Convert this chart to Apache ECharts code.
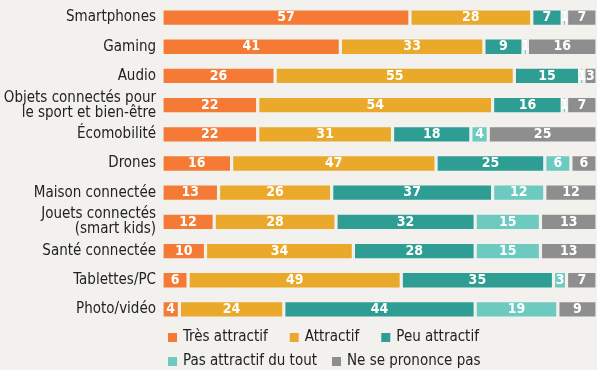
<!DOCTYPE html>
<html><head><meta charset="utf-8">
<script src="https://cdn.jsdelivr.net/npm/echarts@6/dist/echarts.min.js"></script>
<style>html,body{margin:0;padding:0;background:#f2f1ee}#c{width:597px;height:370px}</style>
</head><body><div id="c"></div>
<script>
var categories = ["Smartphones","Gaming","Audio","Objets connectés pour\nle sport et bien-être","Écomobilité","Drones","Maison connectée","Jouets connectés\n(smart kids)","Santé connectée","Tablettes/PC","Photo/vidéo"];
var seriesNames = ["Très attractif","Attractif","Peu attractif","Pas attractif du tout","Ne se prononce pas"];
var tresAttractif   = [57,41,26,22,22,16,13,12,10,6,4];
var attractif       = [28,33,55,54,31,47,26,28,34,49,24];
var peuAttractif    = [7,9,15,16,18,25,37,32,28,35,44];
var pasAttractif    = [1,1,1,1,4,6,12,15,15,3,19];
var neSePrononce    = [7,16,3,7,25,6,12,13,13,7,9];
var colors = ["#f47a36","#eba92b","#2e9e94","#6ccac1","#8e8e8e"];
var bg = "#f2f1ee";
var font = "'Liberation Sans Narrow','DejaVu Sans Condensed','Roboto',sans-serif";
var allData = [tresAttractif, attractif, peuAttractif, pasAttractif, neSePrononce];
var series = allData.map(function(d,i){
  return {
    name: seriesNames[i], type:'bar', stack:'t', data:d, barWidth:17.5,
    itemStyle:{color:colors[i], borderColor:bg, borderWidth:1.6},
    label:{show:true, position:'inside', color:'#fff', fontFamily:font, fontSize:14, fontWeight:'bold'},
    emphasis:{disabled:true}
  };
});
var chart = echarts.init(document.getElementById('c'));
chart.setOption({
  backgroundColor: bg,
  animation:false,
  grid:{left:162, right:-4, top:3, bottom:46, containLabel:false},
  xAxis:{type:'value', min:0, max:100, show:false},
  yAxis:{type:'category', data:categories, inverse:true,
    axisLine:{show:false}, axisTick:{show:false},
    axisLabel:{color:'#222', fontFamily:font, fontSize:15, lineHeight:15, margin:6, align:'right'}},
  legend:[
    {data:seriesNames.slice(0,3), left:166, top:330, padding:0, itemWidth:11, itemHeight:11, itemGap:20,
     icon:'rect', textStyle:{color:'#222', fontFamily:font, fontSize:15}},
    {data:seriesNames.slice(3), left:166, top:354, padding:0, itemWidth:11, itemHeight:11, itemGap:13,
     icon:'rect', textStyle:{color:'#222', fontFamily:font, fontSize:15}}
  ],
  series: series
});
</script></body></html>
